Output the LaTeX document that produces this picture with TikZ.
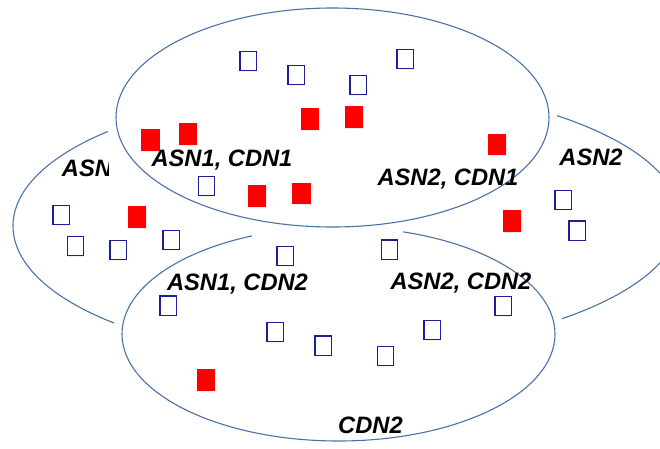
\documentclass[tikz,border=0pt]{standalone}
\usepackage{fontspec}
\setmainfont{Liberation Sans}
\usetikzlibrary{shadows}
\definecolor{ringblue}{RGB}{74,114,168}
\definecolor{boxnavy}{RGB}{30,30,150}
\definecolor{hostred}{RGB}{255,0,0}
\begin{document}
\begin{tikzpicture}[x=1pt,y=-1pt,
  ring/.style={draw=ringblue,line width=1.1pt},
  cdnring/.style={ring,fill=white},
  emptybox/.style={draw=boxnavy,fill=white,line width=1.3pt,
    minimum width=16.3pt,minimum height=19.3pt,inner sep=0pt,
    drop shadow={shadow xshift=0.6pt,shadow yshift=-1pt,opacity=0.1}},
  fullbox/.style={fill=hostred,minimum width=18.5pt,minimum height=21.5pt,inner sep=0pt,
    drop shadow={shadow xshift=0.6pt,shadow yshift=-1pt,opacity=0.15}},
  lbl/.style={font=\fontsize{23.7}{28}\selectfont\bfseries\itshape,inner sep=0pt,anchor=base}]

\useasboundingbox (0,0) rectangle (660,448);
\clip (0,0) rectangle (660,448);

% ASN1 area: only its left arc shows
\begin{scope}
  \clip (0,0) -- (108,0) -- (108,230) -- (114,230) -- (114,448) -- (0,448) -- cycle;
  \draw[ring] (333,226) ellipse [x radius=320pt, y radius=133pt];
  \node[lbl] (asn1) at (93.6,176) {ASN1};
\end{scope}

% ASN2 area: only its right arc shows
\begin{scope}
  \clip (557,0) -- (660,0) -- (660,448) -- (562,448) -- (562,230) -- (557,230) -- cycle;
  \draw[ring] (320,218) ellipse [x radius=360pt, y radius=136pt];
\end{scope}
\node[lbl] (asn2) at (591,165) {ASN2};

% CDN2 area, its top partly hidden
\draw[cdnring] (338.5,334) ellipse [x radius=216.5pt, y radius=107pt];
\fill[white] (252,200) rectangle (403,248);

% CDN1 area
\draw[cdnring] (332.5,117.5) ellipse [x radius=216.5pt, y radius=109.5pt];

% region labels
\node[lbl] (a1c1) at (222,166) {ASN1, CDN1};
\node[lbl] (a2c1) at (448,185) {ASN2, CDN1};
\node[lbl] (a1c2) at (237.5,290) {ASN1, CDN2};
\node[lbl] (a2c2) at (461,289.3) {ASN2, CDN2};
\node[lbl] (cdn2) at (370.5,433) {CDN2};

% empty boxes
\node[emptybox] (e1)  at (248,61) {};
\node[emptybox] (e2)  at (296,75) {};
\node[emptybox] (e3)  at (358,85) {};
\node[emptybox] (e4)  at (405,59) {};
\node[emptybox] (e5)  at (206.5,186) {};
\node[emptybox] (e6)  at (61,215) {};
\node[emptybox] (e7)  at (75.5,246) {};
\node[emptybox] (e8)  at (118,250) {};
\node[emptybox] (e9)  at (171,240) {};
\node[emptybox] (e10) at (285,256) {};
\node[emptybox] (e11) at (389.5,249.5) {};
\node[emptybox] (e12) at (563,200) {};
\node[emptybox] (e13) at (577,230.5) {};
\node[emptybox] (e14) at (503,306) {};
\node[emptybox] (e15) at (168,305.5) {};
\node[emptybox] (e16) at (275,332) {};
\node[emptybox] (e17) at (323,345.5) {};
\node[emptybox] (e18) at (385.5,356) {};
\node[emptybox] (e19) at (432,330) {};

% filled boxes
\node[fullbox] (f1)  at (150.5,140) {};
\node[fullbox] (f2)  at (188,134) {};
\node[fullbox] (f3)  at (310,119) {};
\node[fullbox] (f4)  at (354,117) {};
\node[fullbox] (f5)  at (497,144.5) {};
\node[fullbox] (f6)  at (257,196) {};
\node[fullbox] (f7)  at (301.5,193.5) {};
\node[fullbox] (f8)  at (137,217) {};
\node[fullbox] (f9)  at (512,221) {};
\node[fullbox] (f10) at (206,380) {};
\end{tikzpicture}
\end{document}
